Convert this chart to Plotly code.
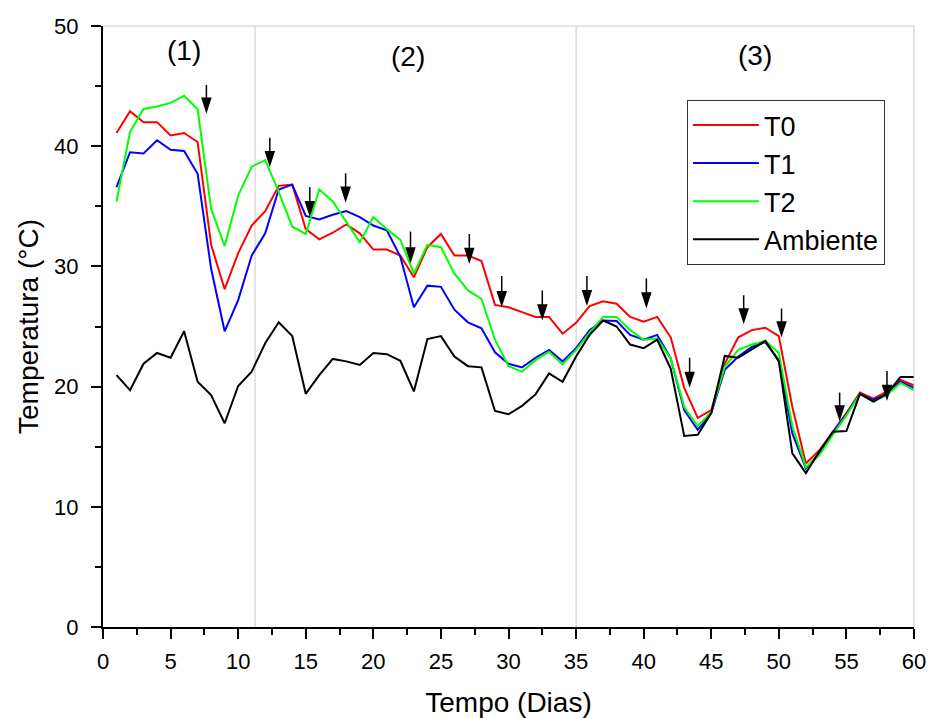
import plotly.graph_objects as go

dias = list(range(1, 61))

t0 = [41.1, 42.9, 42.0, 42.0, 40.9, 41.1, 40.35, 31.8, 28.1, 31.1,
      33.4, 34.6, 36.7, 36.8, 33.1, 32.25, 32.8, 33.5, 32.75, 31.4,
      31.4, 30.9, 29.1, 31.6, 32.7, 30.9, 30.9, 30.45, 26.8, 26.6,
      26.2, 25.8, 25.8, 24.4, 25.3, 26.7, 27.1, 26.9, 25.8, 25.4,
      25.8, 24.1, 19.9, 17.4, 18.05, 21.9, 24.1, 24.7, 24.9, 24.2,
      18.3, 13.6, 14.7, 16.25, 17.8, 19.5, 19.0, 19.6, 20.55, 20.1]

t1 = [36.6, 39.5, 39.4, 40.5, 39.7, 39.6, 37.7, 29.8, 24.6, 27.2,
      30.9, 32.75, 36.4, 36.8, 34.2, 33.9, 34.3, 34.6, 34.1, 33.4,
      33.0, 30.8, 26.6, 28.4, 28.3, 26.4, 25.35, 24.85, 22.85, 21.9,
      21.6, 22.4, 23.05, 22.1, 23.2, 24.7, 25.5, 25.45, 24.3, 23.9,
      24.3, 22.35, 18.05, 16.4, 17.8, 21.4, 22.5, 23.3, 23.7, 22.2,
      16.1, 13.2, 14.45, 16.2, 17.7, 19.4, 18.9, 19.4, 20.4, 19.9]

t2 = [35.4, 41.2, 43.1, 43.3, 43.6, 44.2, 43.07, 34.8, 31.7, 35.9,
      38.3, 38.85, 36.2, 33.3, 32.7, 36.4, 35.4, 33.7, 32.0, 34.1,
      33.1, 32.2, 29.4, 31.8, 31.6, 29.4, 28.0, 27.3, 23.9, 21.7,
      21.25, 22.2, 22.9, 21.85, 23.05, 24.5, 25.8, 25.8, 24.7, 23.9,
      24.0, 22.35, 18.3, 16.7, 17.9, 21.65, 23.05, 23.5, 23.8, 22.8,
      16.7, 13.3, 14.3, 16.0, 17.6, 19.4, 18.75, 19.3, 20.3, 19.7]

ambiente = [20.96, 19.7, 21.9, 22.8, 22.4, 24.6, 20.4, 19.3, 16.95, 20.05,
            21.25, 23.6, 25.35, 24.2, 19.4, 20.96, 22.3, 22.1, 21.8, 22.8,
            22.7, 22.15, 19.6, 23.96, 24.2, 22.5, 21.7, 21.6, 17.97, 17.7,
            18.4, 19.35, 21.1, 20.4, 22.5, 24.3, 25.5, 25.0, 23.5, 23.2,
            23.9, 21.5, 15.9, 16.0, 17.8, 22.55, 22.4, 23.1, 23.8, 22.1,
            14.45, 12.8, 14.6, 16.25, 16.3, 19.4, 18.75, 19.4, 20.8, 20.8]

# arrows (day, top of shaft, tip)
seta_x = [7.65, 12.34, 15.3, 17.95, 22.75, 27.1, 29.5, 32.5, 35.8, 40.2,
          43.4, 47.4, 50.2, 54.5, 58.0]
seta_topo = [45.1, 40.7, 36.6, 37.75, 32.9, 32.7, 29.2, 28.0, 29.2, 29.0,
             22.4, 27.6, 26.5, 19.5, 21.3]
seta_ponta = [42.7, 38.25, 34.1, 35.3, 30.25, 30.2, 26.6, 25.5, 26.7, 26.5,
              19.9, 25.18, 24.1, 17.1, 18.8]

# phase separators and labels
fases_x = [11.25, 35.0]
rotulos = ["(1)", "(2)", "(3)"]
rotulos_x = [6.0, 22.55, 48.2]
rotulos_y = [47.95, 47.45, 47.55]

series = [("T0", t0, "#ff0000"), ("T1", t1, "#0000ff"),
          ("T2", t2, "#00ff00"), ("Ambiente", ambiente, "#000000")]

FONT = "Liberation Sans, Arial, sans-serif"

fig = go.Figure()
for nome, vals, cor in series:
    fig.add_trace(go.Scatter(x=dias, y=vals, mode="lines", name=nome,
                             line=dict(color=cor, width=2)))

# arrow shafts
sx, sy = [], []
for x, a, b in zip(seta_x, seta_topo, seta_ponta):
    sx += [x, x, None]
    sy += [a, b + 1.0, None]
fig.add_trace(go.Scatter(x=sx, y=sy, mode="lines", showlegend=False,
                         hoverinfo="skip", line=dict(color="black", width=1.5)))
fig.add_trace(go.Scatter(x=seta_x, y=seta_ponta, mode="markers", showlegend=False,
                         hoverinfo="skip",
                         marker=dict(symbol="arrow", angle=180, size=17,
                                     color="black", line=dict(width=0))))

for fx in fases_x:
    fig.add_shape(type="line", xref="x", yref="paper", x0=fx, x1=fx, y0=0, y1=1,
                  line=dict(color="#c8c8c8", width=1), layer="below")

# top and right frame (grey)
fig.add_shape(type="line", xref="paper", yref="paper", x0=0, x1=1, y0=1, y1=1,
              line=dict(color="#c8c8c8", width=1))
fig.add_shape(type="line", xref="paper", yref="paper", x0=1, x1=1, y0=0, y1=1,
              line=dict(color="#c8c8c8", width=1))

for t, x, y in zip(rotulos, rotulos_x, rotulos_y):
    fig.add_annotation(x=x, y=y, text=t, showarrow=False,
                       font=dict(family=FONT, size=28, color="black"))

fig.update_layout(
    width=932, height=718,
    margin=dict(l=103, r=18, t=26, b=91),
    paper_bgcolor="white", plot_bgcolor="white",
    font=dict(family=FONT, color="black"),
    showlegend=True,
    legend=dict(x=0.72, y=0.877, xanchor="left", yanchor="top",
                bgcolor="white", bordercolor="#333333", borderwidth=1,
                font=dict(family=FONT, size=27, color="black"),
                itemwidth=66, tracegroupgap=0),
)
fig.update_xaxes(range=[0, 60], dtick=5, tick0=0, showgrid=False, zeroline=False,
                 automargin=False,
                 showline=True, linecolor="black", linewidth=2,
                 ticks="outside", ticklen=10, tickwidth=2, tickcolor="black",
                 minor=dict(ticks="outside", dtick=2.5, ticklen=6, tickwidth=2,
                            tickcolor="black"),
                 ticklabelstandoff=4,
                 tickfont=dict(family=FONT, size=22, color="black"),
                 title=dict(text="Tempo (Dias)", standoff=21,
                            font=dict(family=FONT, size=28, color="black")))
fig.update_yaxes(range=[0, 50], dtick=10, tick0=0, showgrid=False, zeroline=False,
                 automargin=False,
                 showline=True, linecolor="black", linewidth=2,
                 ticks="outside", ticklen=10, tickwidth=2, tickcolor="black",
                 minor=dict(ticks="outside", dtick=5, ticklen=6, tickwidth=2,
                            tickcolor="black"),
                 ticklabelstandoff=8,
                 tickfont=dict(family=FONT, size=22, color="black"),
                 title=dict(text="Temperatura (°C)", standoff=7,
                            font=dict(family=FONT, size=28, color="black")))

fig.write_html("out.html", config={"displayModeBar": False},
               post_script="document.body.style.margin='0px';")
